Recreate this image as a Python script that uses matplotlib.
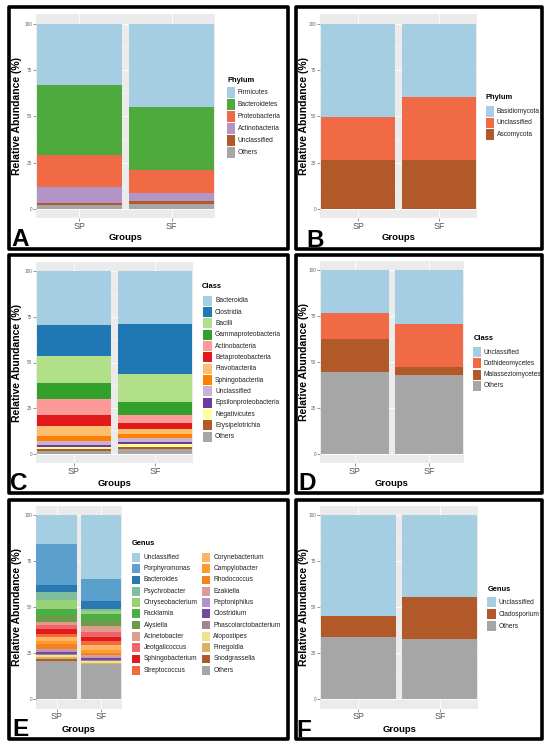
import matplotlib
matplotlib.use('Agg')
import matplotlib.pyplot as plt
from matplotlib.patches import Rectangle
import numpy as np

plt.rcParams['font.family'] = ['Liberation Sans', 'DejaVu Sans']

W, H = 550, 751
groups = ['SP', 'SF']

# ---------------- data (legend order, top of stack first) ----------------
# A: bacterial phylum
bac_phylum = ['Firmicutes', 'Bacteroidetes', 'Proteobacteria', 'Actinobacteria', 'Unclassified', 'Others']
bac_phylum_sp = [33.1, 37.8, 17.0, 8.6, 1.5, 2.0]
bac_phylum_sf = [45.1, 33.7, 12.4, 4.7, 1.6, 2.5]
bac_phylum_colors = ['#A6CEE3', '#4EAA3C', '#F06B45', '#B294C7', '#B15928', '#A6A6A6']

# B: fungal phylum
fun_phylum = ['Basidiomycota', 'Unclassified', 'Ascomycota']
fun_phylum_sp = [50.5, 23.2, 26.3]
fun_phylum_sf = [39.6, 34.1, 26.3]
fun_phylum_colors = ['#A6CEE3', '#F06B45', '#B15928']

# C: bacterial class
bac_class = ['Bacteroidia', 'Clostridia', 'Bacilli', 'Gammaproteobacteria', 'Actinobacteria',
             'Betaproteobacteria', 'Flavobacteriia', 'Sphingobacteriia', 'Unclassified',
             'Epsilonproteobacteria', 'Negativicutes', 'Erysipelotrichia', 'Others']
bac_class_sp = [29.6, 17.0, 14.6, 8.8, 8.8, 6.0, 5.1, 3.0, 2.0, 1.3, 0.8, 1.0, 2.0]
bac_class_sf = [28.9, 27.4, 15.0, 7.2, 4.5, 3.3, 2.4, 2.3, 2.2, 1.4, 1.4, 1.0, 3.0]
bac_class_colors = ['#A6CEE3', '#1F78B4', '#B2DF8A', '#33A02C', '#FB9A99', '#E31A1C',
                    '#FDBF6F', '#FF7F00', '#CAB2D6', '#6A3D9A', '#FFFF99', '#B15928', '#A6A6A6']

# D: fungal class
fun_class = ['Unclassified', 'Dothideomycetes', 'Malasseziomycetes', 'Others']
fun_class_sp = [23.1, 14.2, 18.2, 44.5]
fun_class_sf = [29.1, 23.4, 4.4, 43.1]
fun_class_colors = ['#A6CEE3', '#F06B45', '#B15928', '#A6A6A6']

# E: bacterial genus
bac_genus = ['Unclassified', 'Porphyromonas', 'Bacteroides', 'Psychrobacter', 'Chryseobacterium',
             'Facklamia', 'Alysiella', 'Acinetobacter', 'Jeotgalicoccus', 'Sphingobacterium',
             'Streptococcus', 'Corynebacterium', 'Campylobacter', 'Rhodococcus', 'Ezakiella',
             'Peptoniphilus', 'Clostridium', 'Phascolarctobacterium', 'Atopostipes', 'Finegoldia',
             'Snodgrassella', 'Others']
bac_genus_sp = [15.6, 22.3, 3.6, 4.7, 4.8, 3.5, 3.3, 1.8, 2.4, 2.5, 1.5, 2.5, 1.6, 2.5,
                0.8, 0.9, 1.1, 0.7, 0.7, 1.3, 1.3, 20.6]
bac_genus_sf = [34.8, 11.8, 4.3, 0.9, 1.8, 3.3, 3.3, 3.1, 2.7, 2.1, 2.4, 2.7, 1.8, 0.9,
                0.9, 0.9, 1.1, 0.6, 1.0, 0.4, 0.2, 19.0]
bac_genus_colors = ['#A6CEE3', '#5B9FCC', '#2A78B0', '#7DBE9C', '#98D277', '#4CAF45',
                    '#6D9C48', '#DE9C8C', '#F0646A', '#E31A1C', '#F26A40', '#FDB463',
                    '#FD9A30', '#F58220', '#D99C96', '#B294C7', '#744A9E', '#A08398',
                    '#EEE48A', '#DBB165', '#B15928', '#A6A6A6']

# F: fungal genus
fun_genus = ['Unclassified', 'Cladosporium', 'Others']
fun_genus_sp = [54.5, 11.6, 33.9]
fun_genus_sf = [44.2, 23.2, 32.6]
fun_genus_colors = ['#A6CEE3', '#B15928', '#A6A6A6']

yticks = [0, 25, 50, 75, 100]

# ---------------- drawing ----------------
fig = plt.figure(figsize=(W / 100, H / 100), dpi=100)
fig.patch.set_facecolor('white')


def fx(x):
    return x / W


def fy(y):
    return 1 - y / H


def make_axes(x0, x1, y100, y0):
    per = (y0 - y100) / 100.0
    top = y100 - 5 * per
    bot = y0 + 5 * per
    return fig.add_axes([x0 / W, 1 - bot / H, (x1 - x0) / W, (bot - top) / H])


def draw_bars(ax, cats, sp, sf, colors):
    xs = np.arange(1, len(groups) + 1)
    bottom = np.zeros(len(groups))
    for cat, a, b, c in reversed(list(zip(cats, sp, sf, colors))):
        vals = np.array([a, b], dtype=float)
        ax.bar(xs, vals, width=0.92, bottom=bottom, color=c, linewidth=0, zorder=3)
        bottom += vals
    ax.set_xlim(0.53, 2.47)
    ax.set_ylim(-5, 105)
    ax.set_facecolor('#EBEBEB')
    for s in ax.spines.values():
        s.set_visible(False)
    ax.set_xticks(xs)
    ax.set_xticklabels(groups)
    ax.set_yticks(yticks)
    ax.set_yticklabels([str(v) for v in yticks])
    ax.set_yticks([12.5, 37.5, 62.5, 87.5], minor=True)
    ax.grid(True, which='major', color='white', linewidth=0.6, zorder=1)
    ax.grid(True, which='minor', axis='y', color='white', linewidth=0.3, zorder=1)
    ax.set_axisbelow(True)
    ax.tick_params(axis='y', which='major', labelsize=3.4, labelcolor='#666666',
                   color='#444444', length=2, width=0.4, pad=0.8)
    ax.tick_params(axis='x', which='major', labelsize=6.4, labelcolor='#555555',
                   color='#444444', length=2, width=0.4, pad=0.8)
    ax.tick_params(which='minor', length=0)


def draw_legend(title, cats, colors, title_xy, key_x, key_w, row0, pitch, text_x,
                gap=1.5, split=None, key_x2=None, text_x2=None):
    fig.text(fx(title_xy[0]), fy(title_xy[1]), title, fontsize=5.4, fontweight='bold',
             ha='left', va='center', color='black')
    kh = pitch - gap
    for i, (cat, c) in enumerate(zip(cats, colors)):
        kx, tx, r = key_x, text_x, i
        if split is not None and i >= split:
            kx, tx, r = key_x2, text_x2, i - split
        yc = row0 + r * pitch
        fig.patches.append(Rectangle((fx(kx), fy(yc + kh / 2)), key_w / W, kh / H,
                                     transform=fig.transFigure, facecolor=c,
                                     edgecolor='none'))
        fig.text(fx(tx), fy(yc), cat, fontsize=4.8, ha='left', va='center', color='#222222')


def labels(xc, ylab_x, yc, groups_y):
    fig.text(fx(ylab_x), fy(yc), 'Relative Abundance (%)', rotation=90, fontsize=7.5,
             fontweight='bold', ha='center', va='center')
    fig.text(fx(xc), fy(groups_y), 'Groups', fontsize=6.8, fontweight='bold',
             ha='center', va='center')


def panel_box(x0, y0, x1, y1, letter, lx, ly):
    fig.patches.append(Rectangle((fx(x0), fy(y1)), (x1 - x0) / W, (y1 - y0) / H,
                                 transform=fig.transFigure, facecolor='none',
                                 edgecolor='black', linewidth=2.6, joinstyle='round'))
    fig.text(fx(lx), fy(ly), letter, fontsize=17.5, fontweight='bold', ha='left',
             va='baseline', color='black')


# Panel A
axA = make_axes(36, 215, 23.7, 209)
draw_bars(axA, bac_phylum, bac_phylum_sp, bac_phylum_sf, bac_phylum_colors)
draw_legend('Phylum', bac_phylum, bac_phylum_colors, (227, 80), 227, 8, 92.5, 12, 237.7)
labels(125.5, 17.5, 116.4, 238)
panel_box(8.5, 7.5, 288.5, 249.5, 'A', 11.5, 246.5)

# Panel B
axB = make_axes(320, 477, 23.7, 209)
draw_bars(axB, fun_phylum, fun_phylum_sp, fun_phylum_sf, fun_phylum_colors)
draw_legend('Phylum', fun_phylum, fun_phylum_colors, (485.7, 97.3), 485.7, 8.6, 111.5, 11.5, 496.7)
labels(398.5, 304, 116.4, 238)
panel_box(295.5, 7.5, 541.5, 249.5, 'B', 306.5, 247)

# Panel C
axC = make_axes(36, 192.7, 270.7, 454.3)
draw_bars(axC, bac_class, bac_class_sp, bac_class_sf, bac_class_colors)
draw_legend('Class', bac_class, bac_class_colors, (202, 286.7), 203, 8.7, 300.7, 11.33, 215)
labels(114.3, 16.7, 362.5, 483.5)
panel_box(8.5, 254.5, 288.5, 492.5, 'C', 10, 489.5)

# Panel D
axD = make_axes(320, 464, 270.3, 453.7)
draw_bars(axD, fun_class, fun_class_sp, fun_class_sf, fun_class_colors)
draw_legend('Class', fun_class, fun_class_colors, (473.3, 338.3), 473, 8, 352, 11.33, 484)
labels(392, 304, 362, 483.5)
panel_box(295.5, 254.5, 541.5, 492.5, 'D', 298, 489.5)

# Panel E
axE = make_axes(36, 121.7, 515.3, 699.3)
draw_bars(axE, bac_genus, bac_genus_sp, bac_genus_sf, bac_genus_colors)
draw_legend('Genus', bac_genus, bac_genus_colors, (131.7, 543.3), 131.7, 8.3, 557.3, 11.3, 144,
            gap=2.5, split=11, key_x2=201.7, text_x2=213.3)
labels(78.8, 16.7, 607.3, 729)
panel_box(8.5, 500, 288.5, 738.5, 'E', 12, 736.5)

# Panel F
axF = make_axes(320, 478.3, 515.3, 699.3)
draw_bars(axF, fun_genus, fun_genus_sp, fun_genus_sf, fun_genus_colors)
draw_legend('Genus', fun_genus, fun_genus_colors, (487.3, 589.3), 487.3, 8.4, 602, 12, 498.3)
labels(399.2, 304, 607.3, 729)
panel_box(295.5, 500, 541.5, 738.5, 'F', 296.5, 737)

fig.savefig('out.png', dpi=100, facecolor='white')
